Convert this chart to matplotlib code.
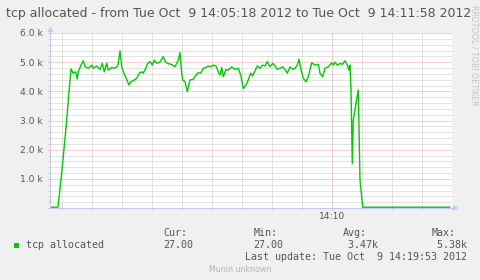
import numpy as np
import matplotlib
matplotlib.use('Agg')
import matplotlib.pyplot as plt
from matplotlib.patches import Polygon, Rectangle
from matplotlib.lines import Line2D

# seconds after 14:05:18 and tcp allocated values
secs = [0, 8, 12, 16.7, 19, 21, 23.3, 25.7, 27.3, 28.3, 31, 33.3, 35, 38.3, 41.7, 43.3,
        46.7, 50, 52.3, 54.3, 56.7, 58.3, 61.7, 65, 67.7, 69, 70, 71.7, 74, 76.7, 79, 81,
        84.3, 86.7, 89.3, 91.7, 93.3, 95.7, 97.7, 100, 102.3, 104.3, 106.7, 110, 113.3,
        115.7, 118.3, 121.7, 125, 128.3, 130, 131.7, 132.7, 135, 137.3, 140, 143.3, 146,
        148.3, 150.7, 153.3, 156, 158.3, 160.7, 163.3, 166, 168.3, 170, 171.7, 173.3, 176,
        178.3, 181.7, 185, 188.3, 190.7, 193.3, 196, 198.3, 200.7, 202.7, 205, 207.3, 210,
        212.7, 215, 217.3, 220, 222.7, 225, 227.3, 230, 232.7, 235, 237.3, 240, 242.7, 245,
        247.3, 249, 250.7, 253.3, 256, 258.3, 261.7, 265, 268.3, 270, 272.7, 275, 278.3,
        281.7, 283.3, 285, 287.3, 290, 292.7, 295, 297.3, 299, 300, 301, 302.3, 303.3, 306,
        308.3, 310, 312.7, 400]
tcp = [27, 27, 1300, 3000, 4000, 4770, 4620, 4670, 4420, 4670, 4900, 5050, 4840, 4790,
       4900, 4790, 4870, 4750, 4960, 4670, 4960, 4730, 4820, 4790, 4870, 5130, 5380, 4840,
       4620, 4410, 4220, 4330, 4390, 4450, 4620, 4670, 4620, 4790, 4960, 5020, 4900, 5070,
       4960, 5000, 5190, 5000, 4950, 4920, 4840, 5070, 5330, 4620, 4390, 4330, 3990, 4390,
       4410, 4560, 4640, 4620, 4790, 4820, 4870, 4840, 4900, 4870, 4670, 4560, 4820, 4500,
       4750, 4730, 4840, 4750, 4790, 4560, 4100, 4220, 4390, 4620, 4530, 4700, 4870, 4790,
       4900, 4870, 5020, 4840, 4960, 4870, 4750, 4790, 4840, 4750, 4620, 4840, 4750, 4790,
       4900, 5100, 4790, 4450, 4330, 4500, 4980, 4900, 4930, 4620, 4500, 4790, 4840, 4980,
       4900, 5000, 4900, 4950, 4930, 5050, 4900, 4730, 4900, 4050, 1530, 3020, 3590, 4050,
       960, 27, 27]

title = 'tcp allocated - from Tue Oct  9 14:05:18 2012 to Tue Oct  9 14:11:58 2012'
x_major = [282]          # 14:10:00
x_major_labels = ['14:10']
legend_name = 'tcp allocated'
stats_heads = ['Cur:', 'Min:', 'Avg:', 'Max:']
stats_vals = ['27.00', '27.00', ' 3.47k', ' 5.38k']
last_update = 'Last update: Tue Oct  9 14:19:53 2012'

W, H = 481, 280
BG = '#f0f0f0'
TXT = '#555555'
AXC = '#c8c8f4'


def px(x, y):
    return x / W, 1 - y / H


fig = plt.figure(figsize=(W / 100, H / 100), dpi=100, facecolor=BG)
L, R, T, B = 50, 452, 33, 208
ax = fig.add_axes([L / W, 1 - B / H, (R - L) / W, (B - T) / H])
ax.set_facecolor('white')

ax.set_xlim(0, 402)
ax.set_ylim(0, 6000)

minor_x = [s for s in range(12, 403, 30) if s not in x_major]
ax.set_xticks(x_major)
ax.set_xticklabels(x_major_labels)
ax.set_xticks(minor_x, minor=True)
ax.set_yticks(np.arange(0, 6001, 1000))
ax.set_yticklabels([''] + [f'{v / 1000:.1f} k' for v in range(1000, 6001, 1000)])
ax.set_yticks([v for v in range(0, 6001, 200) if v % 1000], minor=True)

ax.grid(True, which='minor', color='#c8c8c8', lw=0.72, ls=(0, (1, 1)))
ax.grid(True, which='major', color='#eea0a0', lw=0.72, ls=(0, (1, 1)))
ax.set_axisbelow(True)

ax.tick_params(which='both', length=1.5, width=0.72, labelsize=6.6, labelcolor=TXT)
ax.tick_params(which='major', color='#eea0a0')
ax.tick_params(which='minor', color='#cfcfcf')
ax.tick_params(axis='y', pad=3.5)
ax.tick_params(axis='x', pad=1.5)

for s in ax.spines.values():
    s.set_visible(False)

ax.plot(secs, tcp, color='#00cc00', lw=1.0, solid_joinstyle='round', zorder=3)

# axis lines with arrows
fig.add_artist(Line2D([px(L, B)[0], px(453, B)[0]], [px(L, B)[1]] * 2, color=AXC, lw=0.72))
fig.add_artist(Line2D([px(L, B)[0]] * 2, [px(L, B)[1], px(L, 32)[1]], color=AXC, lw=0.72))
fig.add_artist(Polygon([px(453, 205), px(458.5, 208), px(453, 211)], closed=True,
                       facecolor=AXC, edgecolor='none'))
fig.add_artist(Polygon([px(47.5, 32), px(50.5, 26.5), px(53.5, 32)], closed=True,
                       facecolor=AXC, edgecolor='none'))

fig.text(*px(238.5, 13), title, ha='center', va='center', fontsize=9.0, color=TXT,
         family='DejaVu Sans')
fig.text(*px(474, 5), 'RRDTOOL / TOBI OETIKER', rotation=270, ha='center', va='top',
         fontsize=5.7, color='#c4c4c4', family='DejaVu Sans')

# legend
fig.add_artist(Rectangle(px(14, 247.5), 5 / W, 5 / H, facecolor='#00cc00', edgecolor='none'))
mono = dict(family='DejaVu Sans Mono', fontsize=7.2, color=TXT, va='center', ha='left')
fig.text(*px(26.5, 245), legend_name, **mono)
for xpos, head, val in zip([163.5, 253.5, 342.5, 431.5], stats_heads, stats_vals):
    fig.text(*px(xpos, 233), head, **mono)
    fig.text(*px(xpos, 245), val, **mono)
fig.text(*px(245.5, 257), last_update, **mono)
fig.text(*px(240.5, 269), 'Munin unknown', ha='center', va='center', fontsize=5.7,
         color='#b4b4b4', family='DejaVu Sans')

fig.savefig('out.png', dpi=100, facecolor=BG)
